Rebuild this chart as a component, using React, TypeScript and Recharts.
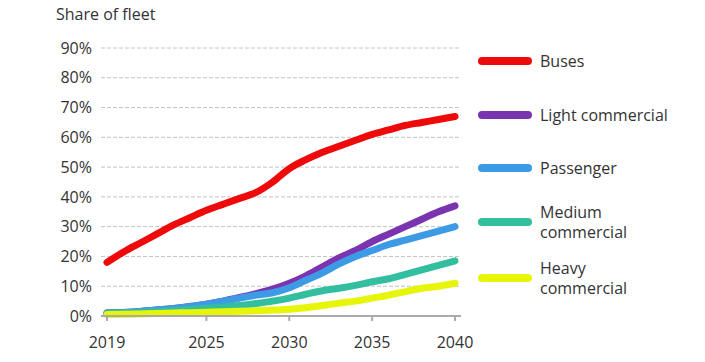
import React from 'react';
import { CartesianGrid, Legend, Line, LineChart, XAxis, YAxis } from 'recharts';

const years = [
  2019, 2020, 2021, 2022, 2023, 2024, 2025, 2026, 2027, 2028, 2029,
  2030, 2031, 2032, 2033, 2034, 2035, 2036, 2037, 2038, 2039, 2040
];
const buses = [18, 21.5, 24.5, 27.5, 30.5, 33, 35.5, 37.5, 39.5, 41.5, 45, 49.5, 52.5, 55, 57, 59, 61, 62.5, 64, 65, 66, 67];
const lightCommercial = [1, 1.2, 1.5, 2, 2.5, 3.2, 4, 5, 6.2, 7.5, 9, 11, 13.5, 16.5, 19.5, 22, 25, 27.5, 30, 32.5, 35, 37];
const passenger = [1, 1.2, 1.5, 2, 2.5, 3.2, 4, 5, 6, 7, 7.8, 9.5, 12, 14.5, 17.5, 20, 22, 24, 25.5, 27, 28.5, 30];
const mediumCommercial = [0.8, 1, 1.2, 1.5, 1.8, 2.2, 2.6, 3, 3.5, 4.2, 5, 6, 7.3, 8.5, 9.3, 10.3, 11.5, 12.5, 14, 15.5, 17, 18.5];
const heavyCommercial = [0.5, 0.6, 0.7, 0.8, 1, 1.1, 1.3, 1.4, 1.6, 1.8, 2, 2.3, 2.8, 3.5, 4.3, 5, 6, 7, 8.2, 9.3, 10, 11];

const xTicks = [2019, 2025, 2030, 2035, 2040];
const yTicks = [0, 10, 20, 30, 40, 50, 60, 70, 80, 90];

const series = [
  { key: 'buses', label: ['Buses'], color: '#ee0a0a', y: 61 },
  { key: 'light', label: ['Light commercial'], color: '#7a34b0', y: 115 },
  { key: 'passenger', label: ['Passenger'], color: '#3d9be6', y: 168 },
  { key: 'medium', label: ['Medium', 'commercial'], color: '#33bf9f', y: 222 },
  { key: 'heavy', label: ['Heavy', 'commercial'], color: '#e6f50a', y: 278 }
];

const data = years.map((year, i) => ({
  year,
  buses: buses[i],
  light: lightCommercial[i],
  passenger: passenger[i],
  medium: mediumCommercial[i],
  heavy: heavyCommercial[i]
}));

const FONT = '"Open Sans", sans-serif';

const LegendBox = () => (
  <svg width={227} height={300} style={{ position: 'absolute', left: 470, top: 0, overflow: 'visible' }}>
    {series.map((s) => (
      <g key={s.key}>
        <line x1={12} x2={58} y1={s.y} y2={s.y} stroke={s.color} strokeWidth={8} strokeLinecap="round" />
        {s.label.map((t, j) => (
          <text
            key={t}
            x={70}
            y={s.y + (j - (s.label.length - 1) / 2) * 20}
            dy="0.35em"
            fontSize={16}
            fill="#333"
            fontFamily={FONT}
          >
            {t}
          </text>
        ))}
      </g>
    ))}
  </svg>
);

export default function App() {
  return (
    <div style={{ position: 'absolute', left: 0, top: 0, width: 705, height: 362, background: '#fff', fontFamily: FONT }}>
      <div style={{ position: 'absolute', left: 56, top: 3, fontSize: 16, color: '#333' }}>Share of fleet</div>
      <LineChart width={705} height={362} data={data} margin={{ top: 48, right: 244, bottom: 16, left: 41 }}>
        <CartesianGrid vertical={false} stroke="#c2c2c2" strokeDasharray="4 2" />
        <XAxis
          dataKey="year"
          type="number"
          domain={[2019, 2040]}
          ticks={xTicks}
          padding={{ left: 6, right: 6 }}
          height={30}
          stroke="#aaa"
          strokeWidth={2}
          tickSize={5}
          tickMargin={16}
          tick={{ fill: '#333', fontSize: 16, fontFamily: FONT }}
        />
        <YAxis
          domain={[0, 90]}
          ticks={yTicks}
          width={60}
          axisLine={false}
          tickLine={false}
          tickSize={0}
          tickMargin={9}
          tickFormatter={(v: number) => `${v}%`}
          tick={{ fill: '#333', fontSize: 16, fontFamily: FONT }}
        />
        <Legend content={() => <LegendBox />} wrapperStyle={{ left: 0, top: 0, width: 0, height: 0 }} />
        {series.map((s) => (
          <Line
            key={s.key}
            type="monotone"
            dataKey={s.key}
            stroke={s.color}
            strokeWidth={7}
            strokeLinecap="round"
            dot={false}
            isAnimationActive={false}
          />
        ))}
      </LineChart>
    </div>
  );
}
